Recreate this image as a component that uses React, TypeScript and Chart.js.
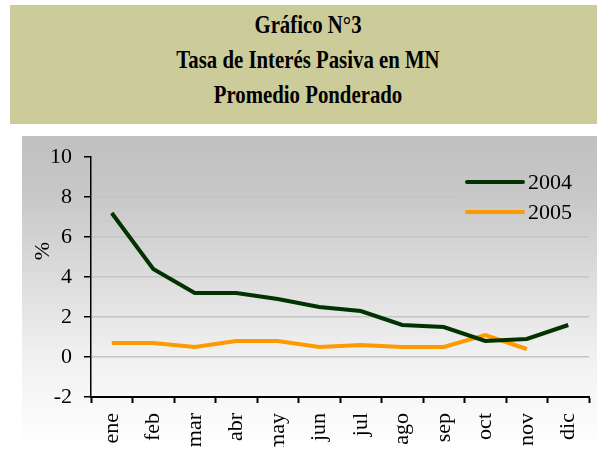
import React, { useEffect, useRef } from 'react';
import { Chart, registerables } from 'chart.js';

Chart.register(...registerables);

const months = ['ene', 'feb', 'mar', 'abr', 'may', 'jun', 'jul', 'ago', 'sep', 'oct', 'nov', 'dic'];
const serie2004 = [7.2, 4.4, 3.2, 3.2, 2.9, 2.5, 2.3, 1.6, 1.5, 0.8, 0.9, 1.6];
const serie2005 = [0.7, 0.7, 0.5, 0.8, 0.8, 0.5, 0.6, 0.5, 0.5, 1.1, 0.4];
const seriesNames = ['2004', '2005'];
const seriesColors = ['#003300', '#ff9900'];
const yMin = -2;
const yMax = 10;
const yStep = 2;
const titleLines = ['Gráfico N°3', 'Tasa de Interés Pasiva en MN', 'Promedio Ponderado'];
const yAxisTitle = '%';

const FONT = '"Liberation Serif"';

function makeGradient(ctx: CanvasRenderingContext2D, h: number) {
  const g = ctx.createLinearGradient(0, 0, 0, h);
  g.addColorStop(0, '#c0c0c0');
  g.addColorStop(0.2, '#c8c8c8');
  g.addColorStop(0.7, '#f0f0f0');
  g.addColorStop(1, '#ffffff');
  return g;
}

const bgPlugin = {
  id: 'bgGradient',
  beforeDraw(chart: any) {
    const { ctx, width, height } = chart;
    ctx.save();
    ctx.fillStyle = makeGradient(ctx, height);
    ctx.fillRect(0, 0, width, height);
    ctx.restore();
  },
};

const legendPlugin = {
  id: 'customLegend',
  beforeDatasetsDraw(chart: any) {
    const { ctx, chartArea, height } = chart;
    const r = chartArea.right;
    const t = chartArea.top;
    ctx.save();
    ctx.fillStyle = makeGradient(ctx, height);
    ctx.fillRect(r - 132, t + 7, 126, 64);
    chart.data.datasets.forEach((ds: any, i: number) => {
      const y = t + 25 + i * 30;
      ctx.strokeStyle = ds.borderColor;
      ctx.lineWidth = 4;
      ctx.lineCap = 'round';
      ctx.beginPath();
      ctx.moveTo(r - 122, y);
      ctx.lineTo(r - 66, y);
      ctx.stroke();
      ctx.fillStyle = '#000';
      ctx.font = `22px ${FONT}, serif`;
      ctx.textAlign = 'left';
      ctx.textBaseline = 'alphabetic';
      ctx.fillText(ds.label, r - 61, t + 32 + i * 30);
    });
    ctx.restore();
  },
};

const yTitlePlugin = {
  id: 'yTitle',
  afterDraw(chart: any) {
    const { ctx, chartArea } = chart;
    ctx.save();
    ctx.translate(chartArea.left - 48, chartArea.top + 94);
    ctx.rotate(-Math.PI / 2);
    ctx.fillStyle = '#000';
    ctx.font = `22px ${FONT}, serif`;
    ctx.textAlign = 'center';
    ctx.textBaseline = 'middle';
    ctx.fillText(yAxisTitle, 0, 0);
    ctx.restore();
  },
};

export default function App() {
  const canvasRef = useRef<HTMLCanvasElement | null>(null);

  useEffect(() => {
    if (!canvasRef.current) return;
    const chart = new Chart(canvasRef.current, {
      type: 'line',
      data: {
        labels: months,
        datasets: [
          {
            label: seriesNames[0],
            data: serie2004,
            borderColor: seriesColors[0],
            backgroundColor: seriesColors[0],
            borderWidth: 4,
            pointRadius: 0,
            tension: 0,
            fill: false,
          },
          {
            label: seriesNames[1],
            data: serie2005,
            borderColor: seriesColors[1],
            backgroundColor: seriesColors[1],
            borderWidth: 4,
            pointRadius: 0,
            tension: 0,
            fill: false,
          },
        ],
      },
      options: {
        animation: false,
        responsive: false,
        devicePixelRatio: 1,
        layout: { padding: { top: 21, right: 8, left: 0, bottom: 0 } },
        plugins: {
          legend: { display: false },
          tooltip: { enabled: false },
          title: { display: false },
        },
        scales: {
          x: {
            type: 'category',
            offset: true,
            grid: {
              offset: true,
              drawOnChartArea: false,
              drawTicks: true,
              tickLength: 6,
              tickColor: '#000',
              tickWidth: 2,
            },
            border: { display: true, color: '#000', width: 2 },
            ticks: {
              color: '#000',
              font: { family: 'Liberation Serif', size: 22 },
              minRotation: 90,
              maxRotation: 90,
              autoSkip: false,
              padding: 10,
            },
            afterFit: (s: any) => {
              s.height = 50;
              s.paddingLeft = 0;
              s.paddingRight = 0;
            },
          },
          y: {
            min: yMin,
            max: yMax,
            grid: {
              color: (c: any) =>
                c.tick && (c.tick.value === yMax || c.tick.value === yMin) ? 'rgba(0,0,0,0)' : '#c4c4c4',
              lineWidth: 1.5,
              drawTicks: true,
              tickLength: 7,
              tickColor: '#000',
              tickWidth: 1.5,
            },
            border: { display: true, color: '#000', width: 1.5 },
            ticks: {
              stepSize: yStep,
              color: '#000',
              font: { family: 'Liberation Serif', size: 22 },
              padding: 12,
            },
            afterFit: (s: any) => {
              s.width = 69;
              s.paddingTop = 0;
              s.paddingBottom = 0;
            },
          },
        },
      },
      plugins: [bgPlugin, legendPlugin, yTitlePlugin],
    } as any);
    return () => chart.destroy();
  }, []);

  return (
    <div style={{ position: 'absolute', left: 0, top: 0, width: 607, height: 456, background: '#fff' }}>
      <div
        style={{
          position: 'absolute',
          left: 10,
          top: 5,
          width: 587,
          height: 119,
          background: '#cccc9a',
        }}
      />
      <div
        style={{
          position: 'absolute',
          left: 19,
          top: 7,
          width: 578,
          fontFamily: '"Liberation Serif", serif',
          fontWeight: 'bold',
          fontSize: 26,
          lineHeight: '35px',
          color: '#000',
          textAlign: 'center',
        }}
      >
        {titleLines.map((t) => (
          <div key={t} style={{ transform: 'scaleX(0.8)', whiteSpace: 'nowrap' }}>
            {t}
          </div>
        ))}
      </div>
      <canvas
        ref={canvasRef}
        width={575}
        height={311}
        style={{ position: 'absolute', left: 22, top: 136, width: 575, height: 311 }}
      />
    </div>
  );
}
